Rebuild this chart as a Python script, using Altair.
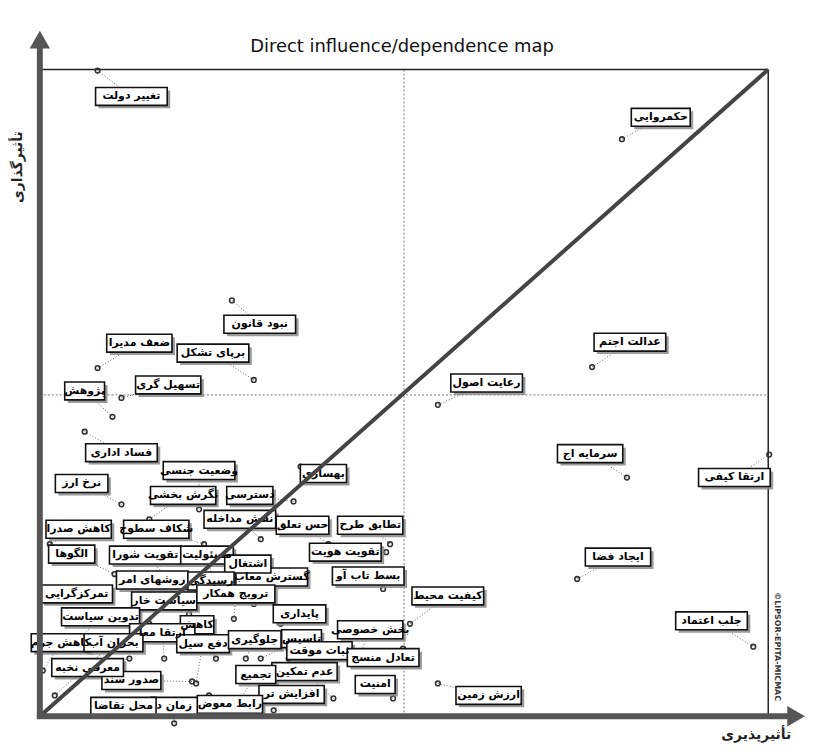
import altair as alt
import pandas as pd

# Variables: dependence (x) and influence (y) in chart units, label anchor positions
names = ["تغییر دولت", "حکمروایی", "نبود قانون", "ضعف مدیرا", "برپای تشکل", "تسهیل گری",
         "پژوهش", "فساد اداری", "وضعیت جنسی", "نرخ ارز", "نگرش بخشی", "دسترسی", "بهسازی",
         "کاهش صدرا", "شکاف سطوح", "نقش مداخله", "حس تعلق", "تطابق طرح", "تقویت هویت",
         "بسط تاب آو", "گسترش معاب", "الگوها", "تقویت شورا", "مسئولیت", "اشتغال",
         "روشهای امر", "رسیدگی", "تمرکزگرایی", "سیاست خار", "ترویج همکار", "تدوین سیاست",
         "کاهش", "ارتقا معا", "کاهش جرم", "بحران آب", "دفع سیل", "جلوگیری", "تاسیس",
         "پایداری", "بخش خصوصی", "ثبات موقت", "تعادل منسج", "عدم تمکین", "تجمیع", "امنیت",
         "افزایش تر", "رابط معوض", "زمان د", "محل تقاضا", "صدور سند", "معرفی نخبه",
         "ایجاد فضا", "جلب اعتماد", "ارزش زمین", "سرمایه اج", "ارتقا کیفی", "عدالت اجتم",
         "رعایت اصول", "کیفیت محیط"]
dependence = [58, 585, 193, 58, 215, 82, 73, 45, 160, 82, 110, 255, 262,
              10, 165, 222, 290, 352, 348, 345, 215, 75, 125, 175, 200,
              100, 150, 25, 110, 195, 40, 177, 125, 3, 15, 157, 207, 222,
              242, 320, 250, 365, 295, 200, 355, 235, 170, 135, 65, 153, 90,
              540, 717, 400, 590, 733, 555, 400, 372]
influence = [649, 580, 418, 350, 338, 320, 301, 286, 208, 213, 198, 216, 251,
             173, 173, 178, 173, 173, 165, 128, 113, 143, 143, 133, 128,
             118, 103, 98, 93, 98, 78, 58, 58, 46, 21, 33, 58, 58,
             93, 58, 58, 68, 18, 15, 18, 6, 21, -7, 3, 35, 58,
             138, 70, 33, 240, 263, 351, 313, 93]
label_x = [92, 624, 221, 100, 174, 129, 45, 82, 160, 42, 144, 211, 285,
           39, 117, 201, 264, 332, 307, 330, 233, 32, 106, 168, 209,
           113, 172, 37, 125, 197, 61, 158, 123, 21, 74, 164, 216, 263,
           261, 332, 281, 345, 266, 217, 337, 253, 191, 135, 84, 92, 48,
           581, 675, 451, 553, 698, 593, 449, 410]
label_y = [623, 602, 394, 375, 365, 333, 327, 265, 247, 234, 222, 222, 244,
           188, 188, 198, 192, 192, 165, 141, 140, 163, 162, 162, 153,
           137, 136, 123, 116, 123, 100, 92, 84, 74, 74, 73, 77, 78,
           103, 87, 66, 59, 45, 42, 32, 22, 12, 10, 10, 36, 49,
           160, 96, 21, 264, 240, 376, 335, 121]

df = pd.DataFrame({"name": names, "x": dependence, "y": influence,
                   "lx": label_x, "ly": label_y})
df["w"] = df["name"].str.len() * 6.4 + 8
df["bx1"] = df["lx"] - df["w"] / 2
df["bx2"] = df["lx"] + df["w"] / 2
df["by1"] = df["ly"] - 9
df["by2"] = df["ly"] + 9
df["sx1"] = df["bx1"] + 3
df["sx2"] = df["bx2"] + 3
df["sy1"] = df["by1"] - 3
df["sy2"] = df["by2"] - 3

one = pd.DataFrame({"k": [0]})
XS = alt.Scale(domain=[0, 732], nice=False, zero=False)
YS = alt.Scale(domain=[0, 650], nice=False, zero=False)
FONT = "DejaVu Sans"

def X(f, **kw):
    return alt.X(f, scale=XS, axis=None, **kw)

def Y(f, **kw):
    return alt.Y(f, scale=YS, axis=None, **kw)

base = alt.Chart(df)

# frame and guides
top_line = alt.Chart(one).mark_rule(color="#222", strokeWidth=1.5).encode(
    x=alt.datum(0, scale=XS, axis=None), x2=alt.datum(732), y=alt.datum(650, scale=YS, axis=None))
right_line = alt.Chart(one).mark_rule(color="#222", strokeWidth=1.5).encode(
    x=alt.datum(732, scale=XS, axis=None), y=alt.datum(0, scale=YS, axis=None), y2=alt.datum(650))
vdash = alt.Chart(one).mark_rule(color="#777", strokeWidth=1, strokeDash=[2, 2]).encode(
    x=alt.datum(366, scale=XS, axis=None), y=alt.datum(0, scale=YS, axis=None), y2=alt.datum(650))
hdash = alt.Chart(one).mark_rule(color="#777", strokeWidth=1, strokeDash=[2, 2]).encode(
    x=alt.datum(0, scale=XS, axis=None), x2=alt.datum(732), y=alt.datum(323, scale=YS, axis=None))
diag = alt.Chart(one).mark_rule(color="#444", strokeWidth=4).encode(
    x=alt.datum(0, scale=XS, axis=None), x2=alt.datum(732),
    y=alt.datum(0, scale=YS, axis=None), y2=alt.datum(650))
yaxis = alt.Chart(one).mark_rule(color="#555", strokeWidth=6).encode(
    x=alt.datum(0, scale=XS, axis=None), y=alt.datum(-2, scale=YS, axis=None), y2=alt.datum(672))
xaxis = alt.Chart(one).mark_rule(color="#555", strokeWidth=6).encode(
    x=alt.datum(-3, scale=XS, axis=None), x2=alt.datum(752), y=alt.datum(0, scale=YS, axis=None))
yarrow = alt.Chart(one).mark_point(shape="triangle-up", filled=True, size=420, color="#555", opacity=1).encode(
    x=alt.datum(0, scale=XS, axis=None), y=alt.datum(680, scale=YS, axis=None))
xarrow = alt.Chart(one).mark_point(shape="triangle-right", filled=True, size=420, color="#555", opacity=1).encode(
    x=alt.datum(760, scale=XS, axis=None), y=alt.datum(0, scale=YS, axis=None))

title = alt.Chart(one).mark_text(text="Direct influence/dependence map", font=FONT, fontSize=18,
                                 fontWeight=500, color="#111", align="center", baseline="middle").encode(
    x=alt.datum(364, scale=XS, axis=None), y=alt.datum(673, scale=YS, axis=None))
ytitle = alt.Chart(one).mark_text(text="تأثیرگذاری", font=FONT, fontSize=14, fontWeight="bold",
                                  angle=270, color="#222", align="center", baseline="middle").encode(
    x=alt.datum(-22, scale=XS, axis=None), y=alt.datum(552, scale=YS, axis=None))
xtitle = alt.Chart(one).mark_text(text="تأثیرپذیری", font=FONT, fontSize=14, fontWeight="bold",
                                  color="#222", align="center", baseline="middle").encode(
    x=alt.datum(720, scale=XS, axis=None), y=alt.datum(-19, scale=YS, axis=None))
copy = alt.Chart(one).mark_text(text="©LIPSOR-EPITA-MICMAC", font=FONT, fontSize=8, fontWeight="bold",
                                angle=90, color="#333", align="center", baseline="middle").encode(
    x=alt.datum(741, scale=XS, axis=None), y=alt.datum(70, scale=YS, axis=None))

leaders = base.mark_rule(color="#666", strokeWidth=1, strokeDash=[1, 2]).encode(
    x=X("x:Q"), y=Y("y:Q"), x2="lx:Q", y2="ly:Q")
points = base.mark_point(shape="circle", filled=False, size=22, strokeWidth=1.6, color="#333", opacity=1).encode(
    x=X("x:Q"), y=Y("y:Q"))
shadows = base.mark_rect(color="#8a8a8a", opacity=0.85).encode(
    x=X("sx1:Q"), x2="sx2:Q", y=Y("sy1:Q"), y2="sy2:Q")
boxes = base.mark_rect(fill="white", stroke="#111", strokeWidth=1.6).encode(
    x=X("bx1:Q"), x2="bx2:Q", y=Y("by1:Q"), y2="by2:Q")
texts = base.mark_text(font=FONT, fontSize=11, fontWeight="bold", color="#000",
                       align="center", baseline="middle").encode(
    x=X("lx:Q"), y=Y("ly:Q"), text="name:N")

chart = alt.layer(
    vdash, hdash, top_line, right_line, leaders, points, shadows, boxes, texts, diag,
    yaxis, xaxis, yarrow, xarrow, title, ytitle, xtitle, copy
).properties(
    width=732, height=650,
    autosize=alt.AutoSizeParams(type="none"),
    padding={"left": 32, "top": 60, "right": 45, "bottom": 30},
).configure_view(stroke=None)

chart.save("out.html", embed_options={"renderer": "svg", "actions": False})
